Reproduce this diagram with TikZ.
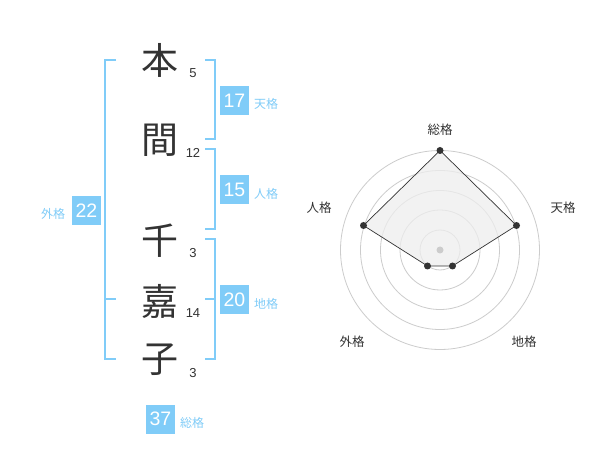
\documentclass[tikz,border=0pt]{standalone}
\usepackage{fontspec}
\setmainfont{Liberation Sans}
\newfontfamily\jp{Noto Sans CJK JP}
\definecolor{sky}{HTML}{80CCF8}
\definecolor{ink}{HTML}{333333}
\definecolor{ring}{HTML}{CCCCCC}
\definecolor{area}{HTML}{EEEEEE}
\tikzset{
  kanji/.style={text=ink,font=\jp\fontsize{37}{37}\selectfont,inner sep=0pt},
  strokes/.style={text=ink,font=\fontsize{13}{13}\selectfont,inner sep=0pt},
  numbox/.style={fill=sky,text=white,font=\fontsize{19.5}{19.5}\selectfont,minimum width=29pt,minimum height=29pt,inner sep=0pt},
  kaku/.style={text=sky,font=\jp\fontsize{12}{12}\selectfont,inner sep=0pt},
  brk/.style={draw=sky,line width=2pt},
  radlab/.style={text=ink,font=\jp\fontsize{12.5}{12.5}\selectfont,inner sep=0pt},
  ringline/.style={draw=ring,line width=0.8pt},
  dot/.style={circle,fill=ink,minimum size=7pt,inner sep=0pt},
}
\begin{document}
\begin{tikzpicture}[x=1pt,y=-1pt]
\useasboundingbox[fill=white] (0,0) rectangle (600,470);
% characters
\node[kanji] (c1) at (160,60) {本};
\node[kanji] (c2) at (160,140) {間};
\node[kanji] (c3) at (160,241) {千};
\node[kanji] (c4) at (160,301) {嘉};
\node[kanji] (c5) at (160,360) {子};
\node[strokes] (s1) at (193,73) {5};
\node[strokes] (s2) at (193,153) {12};
\node[strokes] (s3) at (193,253) {3};
\node[strokes] (s4) at (193,313) {14};
\node[strokes] (s5) at (193,373) {3};
% brackets
\draw[brk] (116,60) -- (105,60) -- (105,359.5) -- (116,359.5);
\draw[brk] (105,299.5) -- (116,299.5);
\draw[brk] (205,60) -- (214.5,60) -- (214.5,139.5) -- (205,139.5);
\draw[brk] (205,149.5) -- (214.5,149.5) -- (214.5,229.5) -- (205,229.5);
\draw[brk] (205,239.5) -- (214.5,239.5) -- (214.5,359.5) -- (205,359.5);
\draw[brk] (205,299.5) -- (214.5,299.5);
% boxes
\node[numbox] (ten) at (234.5,100.5) {17};
\node[kaku] (tenl) at (266,104) {天格};
\node[numbox] (jin) at (234.5,190) {15};
\node[kaku] (jinl) at (266,193.5) {人格};
\node[numbox] (chi) at (234.5,300) {20};
\node[kaku] (chil) at (266,304) {地格};
\node[numbox] (gai) at (86.5,210.5) {22};
\node[kaku] (gail) at (53,214) {外格};
\node[numbox] (sou) at (160.5,419) {37};
\node[kaku] (soul) at (192,423) {総格};
% radar
\coordinate (O) at (440,250);
\foreach \r in {20,40,59.5,79.5,99.5} \draw[ringline] (O) circle (\r);
\path (O) ++(0,-99.5) coordinate (pA);
\path (O) ++(76.5,-24.5) coordinate (pB);
\path (O) ++(12.5,16) coordinate (pC);
\path (O) ++(-12.5,16) coordinate (pD);
\path (O) ++(-76.5,-24.5) coordinate (pE);
\draw[fill=area,fill opacity=0.75,draw=ink,line width=0.7pt] (pA) -- (pB) -- (pC) -- (pD) -- (pE) -- cycle;
\fill[ring] (O) circle (3.5);
\foreach \p in {pA,pB,pC,pD,pE} \node[dot] at (\p) {};
\node[radlab] (r1) at (440,130) {総格};
\node[radlab] (r2) at (563,208) {天格};
\node[radlab] (r3) at (319,208) {人格};
\node[radlab] (r4) at (352,342) {外格};
\node[radlab] (r5) at (524,342) {地格};
\end{tikzpicture}
\end{document}
